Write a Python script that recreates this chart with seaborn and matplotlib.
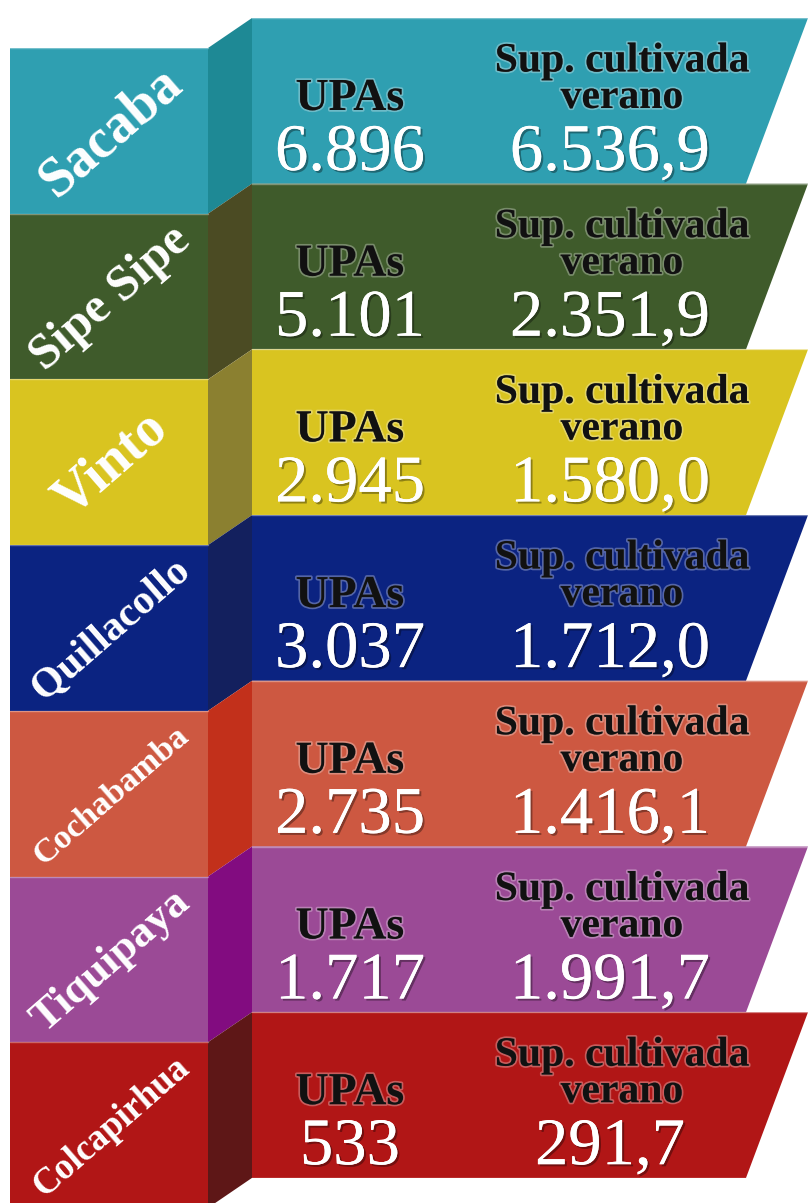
"""Infographic: UPAs and summer cultivated area by municipality (Cochabamba)."""

import matplotlib

matplotlib.use("Agg")
import matplotlib.patheffects as pe
import matplotlib.pyplot as plt
import seaborn as sns

# ── Data ─────────────────────────────────────────────────────────────────────
municipios = ["Sacaba", "Sipe Sipe", "Vinto", "Quillacollo",
              "Cochabamba", "Tiquipaya", "Colcapirhua"]
upas = [6896, 5101, 2945, 3037, 2735, 1717, 533]
sup_verano = [6536.9, 2351.9, 1580.0, 1712.0, 1416.1, 1991.7, 291.7]

# ── Style ────────────────────────────────────────────────────────────────────
sns.set_theme(style="white")
plt.rcParams["font.family"] = ["Liberation Serif", "DejaVu Serif"]

front = sns.color_palette(["#2f9fb1", "#3f5b2b", "#d9c420", "#0b2381",
                           "#cd5841", "#9b4a96", "#b11616"])
side = sns.color_palette(["#1e8995", "#4b4b23", "#8b8030", "#13205e",
                          "#c2301b", "#820c80", "#5e1717"])

W, H = 808, 1203
TOP, PITCH, DROP = 18, 165.7, 30      # right panel top, row height, left offset
LX0, LX1, RX0, RX1, SLANT = 10, 208, 252, 808, 62


def es_int(v):
    return f"{v:,}".replace(",", ".")


def es_dec(v):
    return f"{v:,.1f}".replace(",", "X").replace(".", ",").replace("X", ".")


fig = plt.figure(figsize=(W / 100, H / 100), dpi=100)
ax = fig.add_axes([0, 0, 1, 1])
ax.set_xlim(0, W)
ax.set_ylim(H, 0)
ax.axis("off")

dark_fx = [pe.withStroke(linewidth=2.5, foreground=(1, 1, 1, 0.3))]
white_fx = [pe.withSimplePatchShadow(offset=(1.5, -1.5), shadow_rgbFace="black", alpha=0.35),
            pe.Normal()]

renderer = fig.canvas.get_renderer()

for i, name in enumerate(municipios):
    rt = TOP + i * PITCH
    rb = rt + PITCH
    lt, lb = rt + DROP, rb + DROP

    # left face, 3D side, right slanted panel
    ax.fill([LX0, LX1, LX1, LX0], [lt, lt, lb, lb], color=front[i], lw=0)
    ax.fill([LX1, RX0, RX0, LX1], [lt, rt, rb, lb], color=side[i], lw=0)
    ax.fill([RX0, RX1, RX1 - SLANT, RX0], [rt, rt, rb, rb], color=front[i], lw=0)
    ax.plot([RX0, RX1], [rt, rt], color="white", alpha=0.35, lw=1)
    ax.plot([LX0, LX1], [lt, lt], color="white", alpha=0.35, lw=1)

    # rotated municipality name, fitted to the face
    t = ax.text((LX0 + LX1) / 2 + 2, (lt + lb) / 2 + 2, name, color="white",
                fontsize=40, fontweight="bold", ha="center", va="center",
                rotation_mode="anchor")
    w = t.get_window_extent(renderer).width
    t.set_fontsize(min(40 * 195 / w, 40))
    t.set_rotation(41)

    # UPAs block
    ax.text(350, rt + 92, "UPAs", color="#111111", fontsize=33, fontweight="bold",
            ha="center", va="baseline", path_effects=dark_fx)
    ax.text(350, rt + 152, es_int(upas[i]), color="white", fontsize=48,
            ha="center", va="baseline", path_effects=white_fx)

    # cultivated area block
    ax.text(622, rt + 90, "Sup. cultivada\nverano", color="#111111", fontsize=30,
            fontweight="bold", ha="center", va="baseline", linespacing=0.95,
            multialignment="center", path_effects=dark_fx)
    ax.text(610, rt + 152, es_dec(sup_verano[i]), color="white", fontsize=48,
            ha="center", va="baseline", path_effects=white_fx)

fig.savefig("out.png", dpi=100)
